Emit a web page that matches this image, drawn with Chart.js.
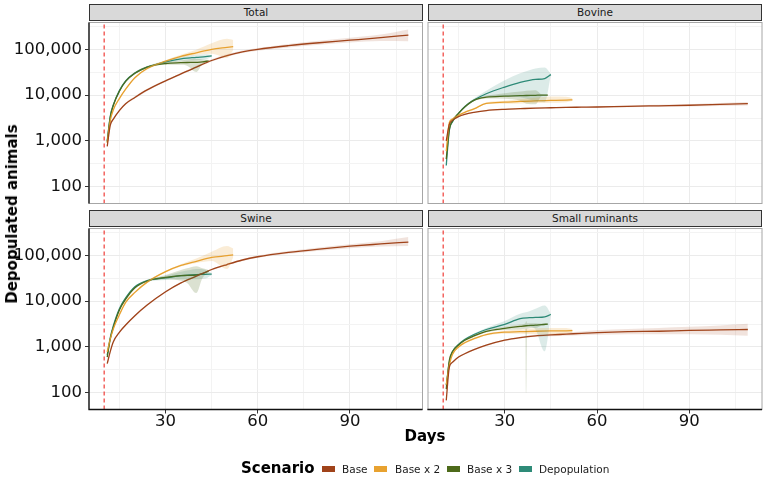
<!DOCTYPE html>
<html><head><meta charset="utf-8">
<script src="https://cdn.jsdelivr.net/npm/chart.js@4.4.0/dist/chart.umd.min.js"></script>
<style>
body{margin:0;background:#fff;width:767px;height:479px;overflow:hidden;font-family:"DejaVu Sans",sans-serif;}
#wrap{position:relative;width:767px;height:479px;}
canvas{position:absolute;left:0;top:0;}
.strip{position:absolute;background:#d9d9d9;border:1.3px solid #333;box-sizing:border-box;font-size:10.5px;color:#1a1a1a;text-align:center;line-height:14px;}
.t{position:absolute;white-space:nowrap;color:#000;}
.key{position:absolute;width:13px;height:6px;}
.lt{position:absolute;font-size:10.5px;color:#1a1a1a;white-space:nowrap;line-height:12px;}
</style></head>
<body><div id="wrap">
<canvas id="c1" width="767" height="479"></canvas>
<canvas id="c2" width="767" height="479"></canvas>
<canvas id="c3" width="767" height="479"></canvas>
<canvas id="c4" width="767" height="479"></canvas>
<div class="strip" style="left:89px;top:4px;width:334px;height:17px;">Total</div>
<div class="strip" style="left:428px;top:4px;width:334px;height:17px;">Bovine</div>
<div class="strip" style="left:89px;top:210px;width:334px;height:17px;">Swine</div>
<div class="strip" style="left:428px;top:210px;width:334px;height:17px;">Small ruminants</div>
<div class="t" style="left:12px;top:214px;font-size:15px;font-weight:bold;transform:translate(-50%,-50%) rotate(-90deg);">Depopulated animals</div>
<div class="t" style="left:425px;top:436px;font-size:15px;font-weight:bold;transform:translate(-50%,-50%);">Days</div>
<div class="t" style="left:241px;top:459px;font-size:15px;font-weight:bold;line-height:18px;">Scenario</div>
<div id="legend"></div>
</div>
<script>
// ---- data ----
const SERIES = ['Base', 'Base x 2', 'Base x 3', 'Depopulation'];
const COLORS = ['#a0431a', '#e8a230', '#4d6a1a', '#2e8b78'];
const BANDS = ['rgba(160,67,26,0.15)', 'rgba(232,162,48,0.2)', 'rgba(77,106,26,0.2)', 'rgba(46,139,120,0.17)'];

const baseDays = [11,12,13,15,17,20,24,30,35,40,45,50,55,60,70,80,90,100,109];
const x2Days   = [11,12,13,15,17,20,24,30,35,40,45,50,52];
const x3Days   = [11,12,13,15,17,20,24,30,35,37,40,42,44];
const depDays  = [11,12,13,15,17,20,24,30,35,38,40,43,45];
const srX3BandDays = [11,12,13,15,17,20,24,30,35,36.7,37,37.3,40,42,44];

const interventionDay = 10;
const xTicks = [30, 60, 90];
const xGrid = [15, 30, 45, 60, 75, 90, 105];
const yTicks = [100, 1000, 10000, 100000];
const yMinorTicks = [316.2, 3162, 31623, 316228];

// Total
const totalBase   = [760,2200,3000,4650,6500,8900,13000,20500,29000,41000,57000,73000,88000,100000,120000,139000,158000,180000,205000];
const totalBaseLo = [710,2070,2820,4400,6150,8400,12300,19500,27500,39000,54000,69000,83000,93000,110000,126000,141000,152000,150000];
const totalBaseHi = [810,2330,3180,4900,6850,9400,13700,21500,30500,43500,61000,78000,94000,107000,131000,154000,178000,210000,270000];
const totalX2   = [900,2800,4800,8500,13500,24000,38000,55000,70000,84000,100000,110000,114000];
const totalX2Lo = [850,2650,4550,8100,12800,22800,36000,52000,66000,76000,80000,65000,95000];
const totalX2Hi = [950,2950,5050,8900,14200,25200,40000,58000,76000,98000,135000,170000,160000];
const totalX3   = [950,3300,6000,12300,20000,30000,41000,49000,51000,51500,52000,53000,56000];
const totalX3Lo = [900,3150,5700,11700,19000,28500,39000,46000,46000,44000,32000,48000,53000];
const totalX3Hi = [1000,3450,6300,12900,21000,31500,43000,52000,57000,59000,62000,60000,59000];
const totalDep   = [1000,3500,6200,12700,20500,30500,41000,53000,62000,65000,67000,69000,72000];
const totalDepLo = [950,3300,5900,12100,19500,29000,39000,50000,56000,57000,58000,60000,69000];
const totalDepHi = [1050,3700,6500,13300,21500,32000,43000,56000,68000,73000,76000,78000,75000];

// Bovine
const bovBase   = [1000,2300,2800,3400,3800,4200,4600,4900,5050,5200,5300,5400,5450,5500,5700,5850,6000,6250,6500];
const bovBaseLo = [950,2200,2700,3300,3700,4100,4450,4750,4900,5050,5150,5250,5280,5300,5450,5550,5650,5800,5900];
const bovBaseHi = [1050,2400,2900,3500,3900,4300,4750,5050,5200,5350,5450,5550,5620,5700,5950,6150,6350,6700,7100];
const bovX2   = [600,2500,3000,3600,4200,5000,6600,7000,7300,7500,7650,7800,7850];
const bovX2Lo = [570,2400,2900,3450,4050,4800,6300,6500,6600,6700,6800,7000,7400];
const bovX2Hi = [630,2600,3100,3750,4350,5200,6900,7500,8100,8800,9300,9200,8500];
const bovX3   = [400,1800,2700,4000,5500,7700,9000,9500,9700,9800,9900,10000,10000];
const bovX3Lo = [380,1700,2550,3800,5200,7300,8400,8300,7500,6500,6300,9500,9700];
const bovX3Hi = [420,1900,2850,4200,5800,8100,9600,11000,12000,12500,12800,10500,10300];
const bovDep   = [290,1700,2600,4000,5600,7800,10700,15000,19000,21000,22000,23000,28000];
const bovDepLo = [280,1620,2480,3800,5300,7300,9200,9500,9000,8000,7500,7000,27000];
const bovDepHi = [300,1780,2720,4200,5900,8400,12500,21000,30000,35000,38000,40000,29000];

// Swine
const swBase   = [430,800,1300,2100,3000,4800,8200,16000,25000,35000,49000,63000,79000,93000,116000,137000,158000,177000,195000];
const swBaseLo = [400,750,1220,2000,2850,4550,7800,15300,24000,33500,47000,60000,75000,88000,108000,126000,143000,155000,160000];
const swBaseHi = [460,850,1380,2200,3150,5050,8600,16700,26000,36500,51000,66000,83000,99000,124000,149000,175000,204000,250000];
const swX2   = [780,1500,2500,5100,9400,15500,26000,44000,60000,74000,90000,98000,102000];
const swX2Lo = [740,1420,2380,4850,8900,14700,24700,42000,57000,68000,75000,50000,90000];
const swX2Hi = [820,1580,2620,5350,9900,16300,27300,46000,64000,85000,120000,160000,140000];
const swX3   = [600,1500,2700,6500,11000,19500,27500,33000,36000,36300,37000,40000,45000];
const swX3Lo = [570,1420,2550,6200,10400,18500,26000,30000,28000,25000,15000,32000,42000];
const swX3Hi = [630,1580,2850,6800,11600,20500,29000,37000,48000,52000,58000,52000,48000];
const swDep   = [660,1600,2900,6900,11700,20500,28000,32000,36000,37500,38000,38500,39000];
const swDepLo = [630,1520,2750,6550,11100,19500,26600,29000,30000,30000,30000,31000,37000];
const swDepHi = [690,1680,3050,7250,12300,21500,29400,36000,44000,48000,50000,48000,41000];

// Small ruminants
const srBase   = [68,360,460,600,710,870,1090,1400,1600,1750,1830,1900,1980,2050,2150,2200,2300,2350,2400];
const srBaseLo = [64,340,440,575,680,835,1045,1340,1530,1660,1720,1760,1800,1850,1900,1900,1900,1850,1750];
const srBaseHi = [72,380,480,625,740,905,1135,1460,1670,1840,1950,2050,2180,2300,2450,2600,2750,2950,3200];
const srX2   = [150,400,680,1000,1230,1510,1860,2100,2150,2200,2230,2250,2260];
const srX2Lo = [140,380,640,950,1170,1440,1770,1950,1950,1900,1900,1950,2050];
const srX2Hi = [160,420,720,1050,1290,1580,1950,2250,2400,2550,2600,2600,2450];
const srX3   = [120,510,780,1100,1400,1740,2180,2530,2800,2900,2980,3080,3150];
const srX3Lo = [110,480,740,1050,1330,1650,2070,2350,2400,2500,100,2500,2600,2900,3050];
const srX3Hi = [130,540,820,1150,1470,1830,2290,2750,3100,3300,3700,3300,3300,3250,3250];
const srDep   = [145,460,780,1130,1450,1870,2400,3100,4150,4350,4400,4550,5100];
const srDepLo = [135,430,740,1080,1380,1780,2250,2700,3000,2800,2400,800,4900];
const srDepHi = [155,490,820,1180,1520,1960,2600,3700,5300,6000,6800,8000,5300];

// ---- layout ----
const X_MIN = 5.07, X_MAX = 113.6, Y_MIN = 43, Y_MAX = 385000;
const SERIES_DAYS = [baseDays, x2Days, x3Days, depDays];
const W = 767, H = 479;

const PANELS = [
  {id:'c1', left:89, right:422.5, top:22.5, bottom:203.5, yLab:true, xLab:false,
   s:[[totalBase,totalBaseLo,totalBaseHi],[totalX2,totalX2Lo,totalX2Hi],[totalX3,totalX3Lo,totalX3Hi],[totalDep,totalDepLo,totalDepHi]]},
  {id:'c2', left:428, right:762, top:22.5, bottom:203.5, yLab:false, xLab:false,
   s:[[bovBase,bovBaseLo,bovBaseHi],[bovX2,bovX2Lo,bovX2Hi],[bovX3,bovX3Lo,bovX3Hi],[bovDep,bovDepLo,bovDepHi]]},
  {id:'c3', left:89, right:422.5, top:228.5, bottom:409.5, yLab:true, xLab:true,
   s:[[swBase,swBaseLo,swBaseHi],[swX2,swX2Lo,swX2Hi],[swX3,swX3Lo,swX3Hi],[swDep,swDepLo,swDepHi]]},
  {id:'c4', left:428, right:762, top:228.5, bottom:409.5, yLab:false, xLab:true,
   s:[[srBase,srBaseLo,srBaseHi],[srX2,srX2Lo,srX2Hi],[srX3,srX3Lo,srX3Hi,srX3BandDays],[srDep,srDepLo,srDepHi]]}
];

const pts = (days, vals) => days.map((d, k) => ({x: d, y: vals[k]}));

const borderPlugin = {
  id: 'panelBorder',
  afterDatasetsDraw(chart, args, opts) {
    const {ctx, chartArea: a} = chart;
    ctx.save();
    ctx.strokeStyle = '#a6a6a6'; ctx.lineWidth = 1;
    ctx.strokeRect(a.left, a.top, a.right - a.left, a.bottom - a.top);
    ctx.strokeStyle = '#111'; ctx.lineWidth = 1.3;
    ctx.beginPath();
    if (opts.left) { ctx.moveTo(a.left, a.top); ctx.lineTo(a.left, a.bottom); }
    if (opts.bottom) { ctx.moveTo(a.left - 0.6, a.bottom); ctx.lineTo(a.right, a.bottom); }
    ctx.stroke();
    ctx.restore();
  }
};

PANELS.forEach(p => {
  const ds = [];
  p.s.forEach((s, i) => {
    const days = s[3] || SERIES_DAYS[i];
    ds.push({data: pts(days, s[1]), borderColor:'rgba(0,0,0,0)', borderWidth:0, pointRadius:0, fill:false, cubicInterpolationMode:'monotone'});
    ds.push({data: pts(days, s[2]), borderColor:'rgba(0,0,0,0)', borderWidth:0, pointRadius:0, fill:'-1', backgroundColor:BANDS[i], cubicInterpolationMode:'monotone'});
  });
  ds.push({data: [{x:interventionDay, y:Y_MIN}, {x:interventionDay, y:Y_MAX}], borderColor:'#ee2a24', borderWidth:1.1, borderDash:[4,3], pointRadius:0, fill:false});
  p.s.forEach((s, i) => {
    ds.push({label: SERIES[i], data: pts(SERIES_DAYS[i], s[0]), borderColor: COLORS[i], borderWidth:1.3, pointRadius:0, fill:false, cubicInterpolationMode:'monotone'});
  });
  const xH = p.xLab ? 30 : 0;
  new Chart(document.getElementById(p.id), {
    type: 'line',
    data: {datasets: ds},
    plugins: [borderPlugin],
    options: {
      responsive:false, animation:false, devicePixelRatio:1,
      layout: {padding: {left: p.yLab ? 0 : p.left, right: W - p.right, top: p.top, bottom: H - p.bottom - xH}},
      plugins: {legend:{display:false}, tooltip:{enabled:false}, panelBorder:{left:p.yLab, bottom:p.xLab}},
      scales: {
        x: {
          type:'linear', min:X_MIN, max:X_MAX,
          afterBuildTicks: s => { s.ticks = xGrid.map(v => ({value:v})); },
          afterFit: s => { s.height = xH; },
          border: {display:false},
          grid: {color: c => xTicks.includes(c.tick && c.tick.value) ? '#ebebeb' : '#f3f3f3', lineWidth:1,
                 drawTicks: p.xLab, tickLength:4,
                 tickColor: c => xTicks.includes(c.tick && c.tick.value) ? '#333' : 'rgba(0,0,0,0)'},
          ticks: {display: p.xLab, autoSkip:false, maxRotation:0, padding:0, color:'#111',
                  font:{family:'DejaVu Sans', size:16.5, lineHeight:1},
                  callback: v => xTicks.includes(v) ? String(v) : ''}
        },
        y: {
          type:'logarithmic', min:Y_MIN, max:Y_MAX,
          afterBuildTicks: s => { s.ticks = yTicks.concat(yMinorTicks).sort((a,b)=>a-b).map(v => ({value:v})); },
          afterFit: s => { s.width = p.yLab ? p.left : 0; },
          border: {display:false},
          grid: {color: c => yTicks.includes(c.tick && c.tick.value) ? '#ebebeb' : '#f3f3f3', lineWidth:1,
                 drawTicks: p.yLab, tickLength:4,
                 tickColor: c => yTicks.includes(c.tick && c.tick.value) ? '#333' : 'rgba(0,0,0,0)'},
          ticks: {display: p.yLab, autoSkip:false, padding:3, color:'#111',
                  font:{family:'DejaVu Sans', size:16.5, lineHeight:1},
                  callback: v => yTicks.includes(v) ? v.toLocaleString('en-US') : ''}
        }
      }
    }
  });
});

// legend
const legendPos = [[322, 342], [374, 395], [447, 467], [519, 539]];
const lg = document.getElementById('legend');
SERIES.forEach((name, i) => {
  const k = document.createElement('div');
  k.className = 'key'; k.style.left = legendPos[i][0] + 'px'; k.style.top = '466px'; k.style.background = COLORS[i];
  lg.appendChild(k);
  const t = document.createElement('div');
  t.className = 'lt'; t.textContent = name; t.style.left = legendPos[i][1] + 'px'; t.style.top = '463px';
  lg.appendChild(t);
});
</script>
</body></html>
